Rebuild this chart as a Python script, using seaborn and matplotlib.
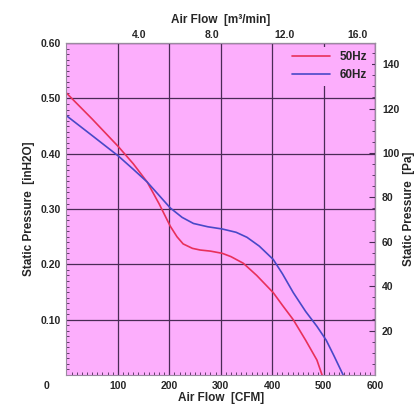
import numpy as np
import pandas as pd
import seaborn as sns
import matplotlib.pyplot as plt
from matplotlib.ticker import MultipleLocator

sns.set_style("ticks")
plt.rcParams['font.family'] = ['Liberation Sans', 'DejaVu Sans']
plt.rcParams['font.weight'] = 'bold'
plt.rcParams['axes.labelweight'] = 'bold'

# Curve data (CFM, inH2O)
cfm_50 = [0, 50, 101, 130, 157, 180, 202, 215, 227, 245, 260, 280, 303, 320, 344,
          370, 402, 420, 441, 465, 487, 497]
p_50 = [0.51, 0.463, 0.413, 0.382, 0.349, 0.31, 0.269, 0.25, 0.237, 0.229, 0.226, 0.224,
        0.22, 0.214, 0.202, 0.18, 0.149, 0.126, 0.10, 0.063, 0.027, 0.0]
cfm_60 = [0, 50, 101, 130, 157, 180, 202, 225, 247, 275, 303, 330, 351, 375, 402,
          420, 441, 465, 487, 505, 520, 538]
p_60 = [0.469, 0.433, 0.396, 0.372, 0.349, 0.325, 0.302, 0.285, 0.274, 0.268, 0.264,
        0.258, 0.249, 0.233, 0.209, 0.183, 0.149, 0.115, 0.088, 0.063, 0.035, 0.0]

x_ticks = [100, 200, 300, 400, 500, 600]
y_ticks = [0.10, 0.20, 0.30, 0.40, 0.50, 0.60]
top_ticks = [4.0, 8.0, 12.0, 16.0]
right_ticks = [20, 40, 60, 80, 100, 120, 140]

df = pd.concat([
    pd.DataFrame({'cfm': cfm_50, 'p': p_50, 'freq': '50Hz'}),
    pd.DataFrame({'cfm': cfm_60, 'p': p_60, 'freq': '60Hz'}),
])

fig = plt.figure(figsize=(4.2, 4.19), dpi=100)
ax = fig.add_axes([0.158, 0.105, 0.735, 0.792])
ax.set_facecolor('#fcaefc')
grid_c = '#4a2a55'

sns.lineplot(data=df, x='cfm', y='p', hue='freq', palette=['#e8305a', '#4848c8'],
             linewidth=1.2, sort=False, estimator=None, ax=ax)

ax.set_xlim(0, 600)
ax.set_ylim(0, 0.60)
ax.set_xticks(x_ticks)
ax.set_yticks(y_ticks)
ax.set_yticklabels([f'{v:.2f}' for v in y_ticks], fontsize=7.5)
ax.set_xticklabels([str(v) for v in x_ticks], fontsize=7.5)
# the shared "0" sits out at the lower-left corner in the original
ax.annotate('0', xy=(0, 0), xycoords='axes fraction', xytext=(-14, -4),
            textcoords='offset points', ha='center', va='top', fontsize=7.5)
ax.xaxis.set_minor_locator(MultipleLocator(10))
ax.yaxis.set_minor_locator(MultipleLocator(0.01))
ax.tick_params(which='both', direction='in', color=grid_c, top=False, right=False)
ax.tick_params(which='major', length=0, pad=4)
ax.tick_params(which='minor', length=2.5)
ax.grid(True, which='major', color=grid_c, linewidth=0.9)
for s in ax.spines.values():
    s.set_color('#9a8aa0')
    s.set_linewidth(0.8)

ax.set_xlabel('Air Flow  [CFM]', fontsize=8.5, labelpad=1)
ax.set_ylabel('Static Pressure  [inH2O]', fontsize=8.5, labelpad=4)

# top axis in m3/min, right axis in Pa
top = ax.secondary_xaxis('top', functions=(lambda c: c * 0.0283168, lambda m: m / 0.0283168))
top.set_xticks(top_ticks)
top.set_xticklabels([f'{v:.1f}' for v in top_ticks], fontsize=7.5)
top.tick_params(direction='in', length=0, pad=2)
top.set_xlabel('Air Flow  [m³/min]', fontsize=8.5, labelpad=5)

right = ax.secondary_yaxis('right', functions=(lambda p: p * 249.089, lambda pa: pa / 249.089))
right.set_yticks(right_ticks)
right.set_yticklabels([str(v) for v in right_ticks], fontsize=7.5)
right.yaxis.set_minor_locator(MultipleLocator(5))
right.tick_params(which='major', direction='in', length=4, color=grid_c, pad=5)
right.tick_params(which='minor', direction='in', length=2, color=grid_c)
right.set_ylabel('Static Pressure  [Pa]', fontsize=8.5, labelpad=3)

leg = ax.legend(loc='upper right', frameon=True, fontsize=8.5, handlelength=3.2,
                borderaxespad=0.3, labelspacing=0.5)
leg.get_frame().set_facecolor('#fcaefc')
leg.get_frame().set_edgecolor('none')
leg.get_frame().set_alpha(1)
leg.set_title(None)

fig.savefig('out.png', dpi=100)
